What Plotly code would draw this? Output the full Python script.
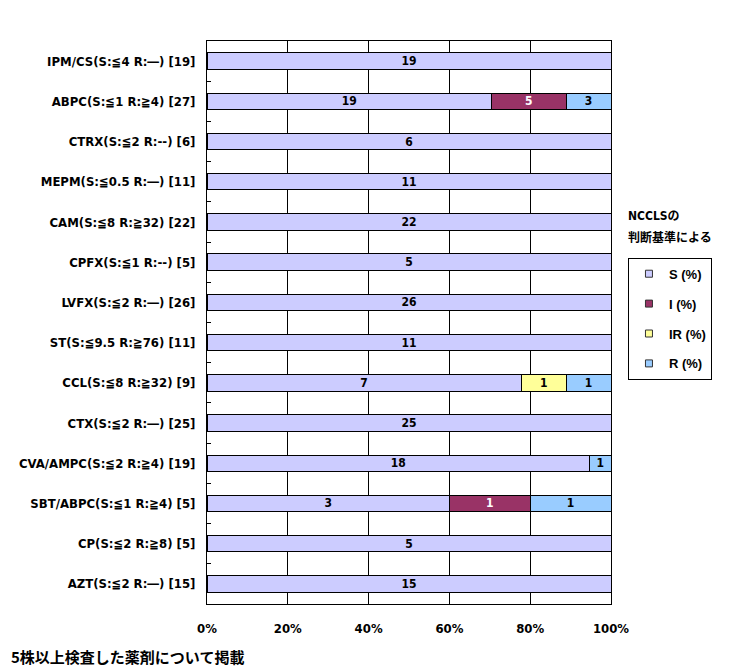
import plotly.graph_objects as go

categories = [
    "IPM/CS(S:≦4 R:―) [19]",
    "ABPC(S:≦1 R:≧4) [27]",
    "CTRX(S:≦2 R:--) [6]",
    "MEPM(S:≦0.5 R:―) [11]",
    "CAM(S:≦8 R:≧32) [22]",
    "CPFX(S:≦1 R:--) [5]",
    "LVFX(S:≦2 R:―) [26]",
    "ST(S:≦9.5 R:≧76) [11]",
    "CCL(S:≦8 R:≧32) [9]",
    "CTX(S:≦2 R:―) [25]",
    "CVA/AMPC(S:≦2 R:≧4) [19]",
    "SBT/ABPC(S:≦1 R:≧4) [5]",
    "CP(S:≦2 R:≧8) [5]",
    "AZT(S:≦2 R:―) [15]",
]
s_counts = [19, 19, 6, 11, 22, 5, 26, 11, 7, 25, 18, 3, 5, 15]
i_counts = [0, 5, 0, 0, 0, 0, 0, 0, 0, 0, 0, 1, 0, 0]
ir_counts = [0, 0, 0, 0, 0, 0, 0, 0, 1, 0, 0, 0, 0, 0]
r_counts = [0, 3, 0, 0, 0, 0, 0, 0, 1, 0, 1, 1, 0, 0]
series_names = ["S (%)", "I (%)", "IR (%)", "R (%)"]
x_ticks = [0, 20, 40, 60, 80, 100]
x_tick_labels = ["0%", "20%", "40%", "60%", "80%", "100%"]

colors = ["#CCCCFF", "#993366", "#FFFF99", "#99CCFF"]
text_colors = ["black", "white", "black", "black"]
FONT = "DejaVu Sans Condensed, DejaVu Sans, Noto Sans CJK JP, sans-serif"

fig = go.Figure()
for name, vals, col, tcol in zip(series_names, [s_counts, i_counts, ir_counts, r_counts], colors, text_colors):
    xv = [v if v else None for v in vals]
    fig.add_trace(go.Bar(
        y=categories, x=xv, orientation="h", name=name,
        marker=dict(color=col, line=dict(color="black", width=1)),
        text=[str(v) if v else "" for v in vals],
        textposition="inside", insidetextanchor="middle", textangle=0,
        constraintext="none",
        textfont=dict(color=tcol, size=12, family=FONT, weight="bold"),
        showlegend=False, hoverinfo="skip",
    ))
    # legend entry with small square symbol
    fig.add_trace(go.Scatter(
        x=[None], y=[None], mode="markers", name=name, legendgroup=name,
        marker=dict(symbol="square", size=7, color=col, line=dict(color="#333333", width=1)),
        showlegend=True,
    ))

fig.update_layout(
    width=738, height=672,
    margin=dict(l=199, r=135, t=33, b=76),
    paper_bgcolor="white", plot_bgcolor="white",
    barmode="stack", barnorm="percent", bargap=0.59,
    font=dict(family=FONT, size=12, color="black"),
    legend=dict(
        x=1.042, y=0.615, xanchor="left", yanchor="top",
        bordercolor="black", borderwidth=1,
        traceorder="grouped", tracegroupgap=10,
        itemwidth=30,
        font=dict(family="Liberation Sans, Arial, sans-serif", size=13, weight="bold"),
    ),
)
fig.update_xaxes(
    range=[0, 100], tickvals=x_ticks, ticktext=x_tick_labels,
    showgrid=True, gridcolor="black", gridwidth=1,
    showline=True, linecolor="black", linewidth=1, mirror=True,
    ticks="", ticklabelstandoff=12, zeroline=False,
    tickfont=dict(family=FONT, size=13, weight="bold"),
)
fig.update_yaxes(
    autorange="reversed", type="category",
    tickson="boundaries", ticks="inside", ticklen=4, tickcolor="black",
    showgrid=False, showline=True, linecolor="black", linewidth=1, mirror=True,
    ticklabelstandoff=8,
    tickfont=dict(family=FONT, size=13, weight="bold"),
)

fig.add_annotation(text="NCCLSの", xref="paper", yref="paper", x=1.037, y=0.69,
                   xanchor="left", yanchor="middle", showarrow=False,
                   font=dict(family="DejaVu Sans Condensed, Noto Sans CJK JP", size=12, weight="bold"))
fig.add_annotation(text="判断基準による", xref="paper", yref="paper", x=1.037, y=0.652,
                   xanchor="left", yanchor="middle", showarrow=False,
                   font=dict(family="Noto Sans CJK JP", size=12, weight="bold"))
fig.add_annotation(text="5株以上検査した薬剤について掲載", xref="paper", yref="paper",
                   x=-0.49, y=-0.094, xanchor="left", yanchor="middle", showarrow=False,
                   font=dict(family="Noto Sans CJK JP", size=15, weight="bold"))

fig.write_html("out.html")
